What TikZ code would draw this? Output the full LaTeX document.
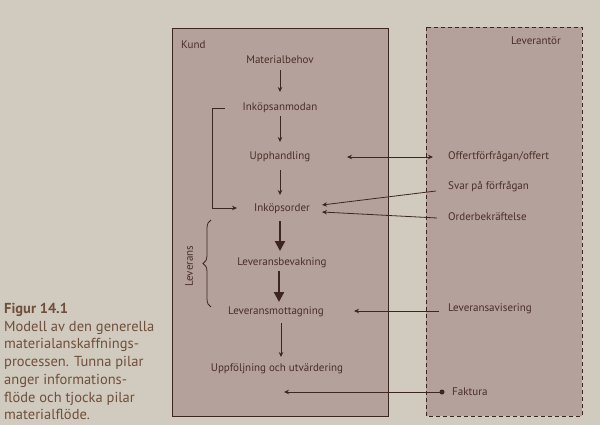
\documentclass[tikz,border=0pt]{standalone}
\usepackage{fontspec}
\setmainfont{PT Sans}
\usetikzlibrary{arrows.meta,decorations.pathreplacing,calc}
\definecolor{page}{RGB}{208,203,190}
\definecolor{boxc}{RGB}{180,161,155}
\definecolor{inkc}{RGB}{62,38,32}
\definecolor{txt}{RGB}{74,46,40}
\definecolor{capc}{RGB}{112,78,60}
\begin{document}
\begin{tikzpicture}[x=1pt,y=-1pt,
  lbl/.style={font=\fontsize{11}{13}\selectfont, text=txt, inner sep=2pt},
  thinarr/.style={draw=inkc, line width=0.8pt, -{Stealth[length=5pt,width=4.5pt]}},
  thickarr/.style={draw=inkc, line width=2.2pt, -{Triangle[length=10pt,width=10pt]}},
  boxs/.style={draw=inkc, line width=0.8pt, fill=boxc}
]
\fill[page] (0,0) rectangle (600,425);
\useasboundingbox (0,0) rectangle (600,425);
% boxes
\draw[boxs] (172,28) rectangle (388,416);
\draw[boxs, dash pattern=on 4pt off 3pt] (426,27) rectangle (582,416);
% titles
\node[lbl, anchor=west] (kund) at (179,45) {Kund};
\node[lbl, anchor=east] (lev) at (563,41) {Leverantör};
% center column
\node[lbl] (mb) at (280,60) {Materialbehov};
\node[lbl] (ia) at (280,108) {Inköpsanmodan};
\node[lbl] (up) at (280,157) {Upphandling};
\node[lbl] (io) at (282,209) {Inköpsorder};
\node[lbl] (lb) at (282,263) {Leveransbevakning};
\node[lbl] (lm) at (276,312) {Leveransmottagning};
\node[lbl] (uu) at (277,369) {Uppföljning och utvärdering};
% right column
\node[lbl, anchor=west] (of) at (446,157) {Offertförfrågan/offert};
\node[lbl, anchor=west] (sv) at (446,187) {Svar på förfrågan};
\node[lbl, anchor=west] (ob) at (446,217) {Orderbekräftelse};
\node[lbl, anchor=west] (la) at (446,309) {Leveransavisering};
\node[lbl, anchor=west] (fa) at (450,392) {Faktura};
\node[circle, fill=inkc, inner sep=0pt, minimum size=5pt] (fd) at (442,392) {};
% side labels
\node[lbl, rotate=90] (levr) at (189,266) {Leverans};
% coordinates for free ends
\coordinate (uparr) at (347,157);
\coordinate (ofarr) at (433,157);
\coordinate (svs) at (436,191);
\coordinate (obs) at (437,218);
\coordinate (io1) at (322,205);
\coordinate (io2) at (322,212);
\coordinate (las) at (439,311);
\coordinate (lmt) at (354,311);
\coordinate (fat) at (284,392);
\coordinate (br1) at (225,108);
\coordinate (br2) at (212,108);
\coordinate (br3) at (212,208);
\coordinate (br4) at (237,208);
% vertical arrows
\draw[thinarr] (280,70) -- (280,92);
\draw[thinarr] (280,116) -- (280,142);
\draw[thinarr] (280,170) -- (280,195);
\draw[thickarr] (280,221) -- (280,251);
\draw[thickarr] (279,271) -- (279,302);
\draw[thinarr] (281,323) -- (281,357);
% horizontal arrows
\draw[thinarr, {Stealth[length=5pt,width=4.5pt]}-{Stealth[length=5pt,width=4.5pt]}] (uparr) -- (ofarr);
\draw[thinarr] (svs) -- (io1);
\draw[thinarr] (obs) -- (io2);
\draw[thinarr] (las) -- (lmt);
\draw[thinarr] (fd.center) -- (fat);
% bracket
\draw[thinarr] (br1) -- (br2) -- (br3) -- (br4);
% brace
\draw[draw=inkc, line width=0.8pt, decorate, decoration={brace, amplitude=8pt}] (211,307) -- (211,220);
% caption
\node[anchor=north west, align=left, inner sep=0pt, text=capc, font=\fontsize{14.5}{17.7}\selectfont] (cap) at (4,303)
 {\textbf{Figur 14.1}\\Modell av den generella\\materialanskaffnings-\\processen. Tunna pilar\\anger informations-\\flöde och tjocka pilar\\materialflöde.};
\end{tikzpicture}
\end{document}
